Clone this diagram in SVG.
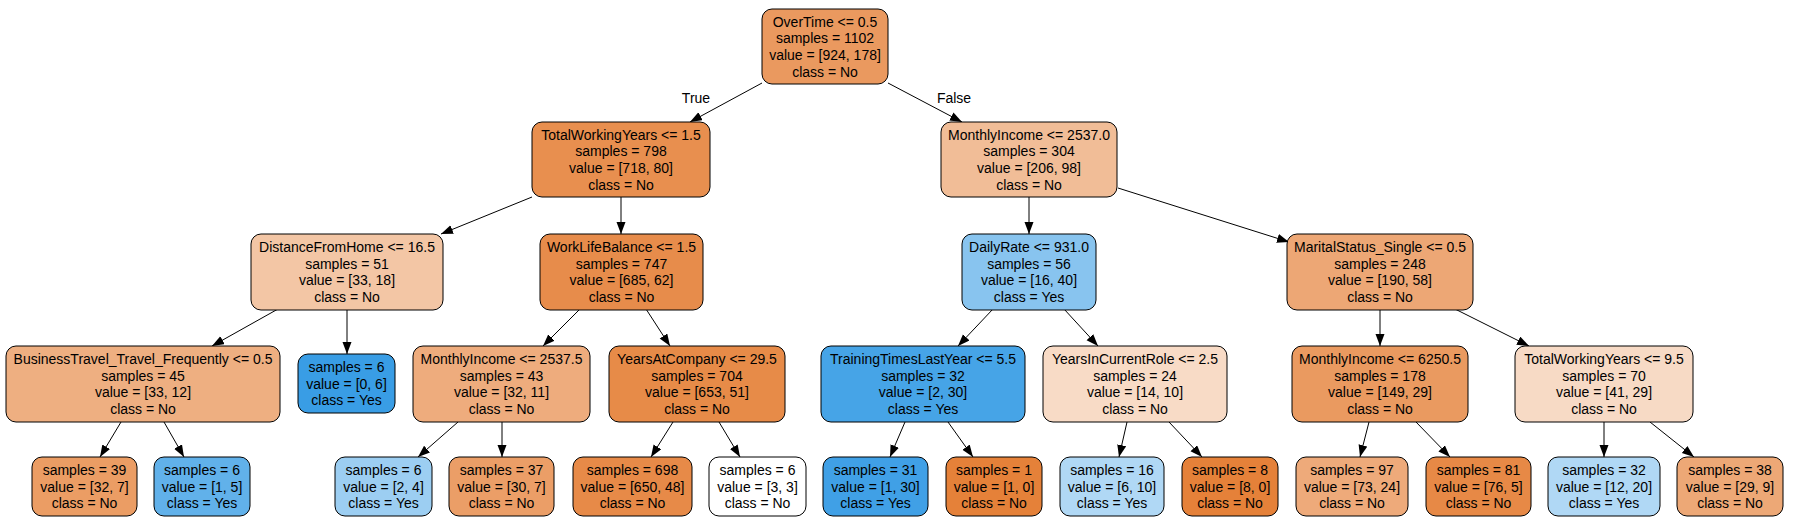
<svg xmlns="http://www.w3.org/2000/svg" width="1797" height="529" viewBox="0 0 1797 529">
<style>
rect.n{stroke:#000;stroke-width:1;}
text{font-family:"Liberation Sans",Arial,sans-serif;font-size:14px;fill:#000;text-anchor:middle;}
.e line{stroke:#000;stroke-width:1;marker-end:url(#ah);}
</style>
<defs>
<marker id="ah" markerUnits="userSpaceOnUse" markerWidth="12" markerHeight="10" refX="12" refY="4.5" orient="auto">
<path d="M0,0 L12,4.5 L0,9 z" fill="#000"/>
</marker>
</defs>
<rect width="1797" height="529" fill="#fff"/>
<g class="e" id="edges">
<line x1="762" y1="83" x2="690" y2="122"/>
<line x1="888" y1="83" x2="962" y2="122"/>
<line x1="532" y1="197" x2="441" y2="234"/>
<line x1="621" y1="197" x2="621" y2="234"/>
<line x1="1029" y1="197" x2="1029" y2="234"/>
<line x1="1118" y1="188" x2="1289" y2="242"/>
<line x1="278" y1="309" x2="212" y2="346"/>
<line x1="347" y1="310" x2="347" y2="354"/>
<line x1="580" y1="309" x2="543" y2="346"/>
<line x1="646" y1="309" x2="670" y2="346"/>
<line x1="993" y1="309" x2="958" y2="346"/>
<line x1="1064" y1="309" x2="1098" y2="346"/>
<line x1="1380" y1="310" x2="1380" y2="346"/>
<line x1="1455" y1="309" x2="1529" y2="346"/>
<line x1="121" y1="422" x2="100" y2="457"/>
<line x1="164" y1="422" x2="184" y2="457"/>
<line x1="458" y1="422" x2="418" y2="457"/>
<line x1="502" y1="422" x2="502" y2="457"/>
<line x1="673" y1="422" x2="651" y2="457"/>
<line x1="719" y1="422" x2="740" y2="457"/>
<line x1="905" y1="422" x2="890" y2="457"/>
<line x1="948" y1="422" x2="973" y2="457"/>
<line x1="1127" y1="422" x2="1119" y2="457"/>
<line x1="1169" y1="422" x2="1202" y2="457"/>
<line x1="1369" y1="422" x2="1360" y2="457"/>
<line x1="1416" y1="422" x2="1450" y2="457"/>
<line x1="1604" y1="422" x2="1604" y2="457"/>
<line x1="1650" y1="422" x2="1694" y2="457"/>
<text x="696" y="103">True</text>
<text x="954" y="103">False</text>
</g>
<g id="n0"><rect class="n" x="762" y="9" width="126" height="75" rx="10" fill="#ea995f"/>
<text x="825" y="26.5">OverTime &lt;= 0.5</text><text x="825" y="43.2">samples = 1102</text><text x="825" y="59.8">value = [924, 178]</text><text x="825" y="76.5">class = No</text></g>
<g id="n1"><rect class="n" x="532" y="122" width="178" height="75" rx="10" fill="#e88f4f"/>
<text x="621" y="139.5">TotalWorkingYears &lt;= 1.5</text><text x="621" y="156.2">samples = 798</text><text x="621" y="172.8">value = [718, 80]</text><text x="621" y="189.5">class = No</text></g>
<g id="n2"><rect class="n" x="941" y="122" width="176" height="75" rx="10" fill="#f1bd97"/>
<text x="1029" y="139.5">MonthlyIncome &lt;= 2537.0</text><text x="1029" y="156.2">samples = 304</text><text x="1029" y="172.8">value = [206, 98]</text><text x="1029" y="189.5">class = No</text></g>
<g id="n3"><rect class="n" x="251" y="234" width="192" height="76" rx="10" fill="#f3c6a5"/>
<text x="347" y="252">DistanceFromHome &lt;= 16.5</text><text x="347" y="268.7">samples = 51</text><text x="347" y="285.3">value = [33, 18]</text><text x="347" y="302">class = No</text></g>
<g id="n4"><rect class="n" x="540" y="234" width="163" height="76" rx="10" fill="#e78c4b"/>
<text x="621.5" y="252">WorkLifeBalance &lt;= 1.5</text><text x="621.5" y="268.7">samples = 747</text><text x="621.5" y="285.3">value = [685, 62]</text><text x="621.5" y="302">class = No</text></g>
<g id="n5"><rect class="n" x="962" y="234" width="134" height="76" rx="10" fill="#88c4ef"/>
<text x="1029" y="252">DailyRate &lt;= 931.0</text><text x="1029" y="268.7">samples = 56</text><text x="1029" y="285.3">value = [16, 40]</text><text x="1029" y="302">class = Yes</text></g>
<g id="n6"><rect class="n" x="1287" y="234" width="186" height="76" rx="10" fill="#eda775"/>
<text x="1380" y="252">MaritalStatus_Single &lt;= 0.5</text><text x="1380" y="268.7">samples = 248</text><text x="1380" y="285.3">value = [190, 58]</text><text x="1380" y="302">class = No</text></g>
<g id="n7"><rect class="n" x="6" y="346" width="274" height="76" rx="10" fill="#eeaf81"/>
<text x="143" y="364">BusinessTravel_Travel_Frequently &lt;= 0.5</text><text x="143" y="380.7">samples = 45</text><text x="143" y="397.3">value = [33, 12]</text><text x="143" y="414">class = No</text></g>
<g id="n8"><rect class="n" x="298" y="354" width="97" height="59" rx="10" fill="#399de5"/>
<text x="346.5" y="371.8">samples = 6</text><text x="346.5" y="388.5">value = [0, 6]</text><text x="346.5" y="405.2">class = Yes</text></g>
<g id="n9"><rect class="n" x="413" y="346" width="177" height="76" rx="10" fill="#eeac7d"/>
<text x="501.5" y="364">MonthlyIncome &lt;= 2537.5</text><text x="501.5" y="380.7">samples = 43</text><text x="501.5" y="397.3">value = [32, 11]</text><text x="501.5" y="414">class = No</text></g>
<g id="n10"><rect class="n" x="609" y="346" width="176" height="76" rx="10" fill="#e78b48"/>
<text x="697" y="364">YearsAtCompany &lt;= 29.5</text><text x="697" y="380.7">samples = 704</text><text x="697" y="397.3">value = [653, 51]</text><text x="697" y="414">class = No</text></g>
<g id="n11"><rect class="n" x="821" y="346" width="204" height="76" rx="10" fill="#46a4e7"/>
<text x="923" y="364">TrainingTimesLastYear &lt;= 5.5</text><text x="923" y="380.7">samples = 32</text><text x="923" y="397.3">value = [2, 30]</text><text x="923" y="414">class = Yes</text></g>
<g id="n12"><rect class="n" x="1043" y="346" width="184" height="76" rx="10" fill="#f8dbc6"/>
<text x="1135" y="364">YearsInCurrentRole &lt;= 2.5</text><text x="1135" y="380.7">samples = 24</text><text x="1135" y="397.3">value = [14, 10]</text><text x="1135" y="414">class = No</text></g>
<g id="n13"><rect class="n" x="1292" y="346" width="176" height="76" rx="10" fill="#ea9a60"/>
<text x="1380" y="364">MonthlyIncome &lt;= 6250.5</text><text x="1380" y="380.7">samples = 178</text><text x="1380" y="397.3">value = [149, 29]</text><text x="1380" y="414">class = No</text></g>
<g id="n14"><rect class="n" x="1515" y="346" width="178" height="76" rx="10" fill="#f7dac5"/>
<text x="1604" y="364">TotalWorkingYears &lt;= 9.5</text><text x="1604" y="380.7">samples = 70</text><text x="1604" y="397.3">value = [41, 29]</text><text x="1604" y="414">class = No</text></g>
<g id="n15"><rect class="n" x="32" y="457" width="105" height="59" rx="10" fill="#eb9d64"/>
<text x="84.5" y="474.8">samples = 39</text><text x="84.5" y="491.5">value = [32, 7]</text><text x="84.5" y="508.2">class = No</text></g>
<g id="n16"><rect class="n" x="154" y="457" width="96" height="59" rx="10" fill="#61b1ea"/>
<text x="202" y="474.8">samples = 6</text><text x="202" y="491.5">value = [1, 5]</text><text x="202" y="508.2">class = Yes</text></g>
<g id="n17"><rect class="n" x="335" y="457" width="97" height="59" rx="10" fill="#9ccef2"/>
<text x="383.5" y="474.8">samples = 6</text><text x="383.5" y="491.5">value = [2, 4]</text><text x="383.5" y="508.2">class = Yes</text></g>
<g id="n18"><rect class="n" x="449" y="457" width="105" height="59" rx="10" fill="#eb9e67"/>
<text x="501.5" y="474.8">samples = 37</text><text x="501.5" y="491.5">value = [30, 7]</text><text x="501.5" y="508.2">class = No</text></g>
<g id="n19"><rect class="n" x="573" y="457" width="119" height="59" rx="10" fill="#e78a48"/>
<text x="632.5" y="474.8">samples = 698</text><text x="632.5" y="491.5">value = [650, 48]</text><text x="632.5" y="508.2">class = No</text></g>
<g id="n20"><rect class="n" x="709" y="457" width="97" height="59" rx="10" fill="#ffffff"/>
<text x="757.5" y="474.8">samples = 6</text><text x="757.5" y="491.5">value = [3, 3]</text><text x="757.5" y="508.2">class = No</text></g>
<g id="n21"><rect class="n" x="823" y="457" width="105" height="59" rx="10" fill="#40a0e6"/>
<text x="875.5" y="474.8">samples = 31</text><text x="875.5" y="491.5">value = [1, 30]</text><text x="875.5" y="508.2">class = Yes</text></g>
<g id="n22"><rect class="n" x="946" y="457" width="96" height="59" rx="10" fill="#e58139"/>
<text x="994" y="474.8">samples = 1</text><text x="994" y="491.5">value = [1, 0]</text><text x="994" y="508.2">class = No</text></g>
<g id="n23"><rect class="n" x="1060" y="457" width="104" height="59" rx="10" fill="#b0d8f5"/>
<text x="1112" y="474.8">samples = 16</text><text x="1112" y="491.5">value = [6, 10]</text><text x="1112" y="508.2">class = Yes</text></g>
<g id="n24"><rect class="n" x="1182" y="457" width="96" height="59" rx="10" fill="#e58139"/>
<text x="1230" y="474.8">samples = 8</text><text x="1230" y="491.5">value = [8, 0]</text><text x="1230" y="508.2">class = No</text></g>
<g id="n25"><rect class="n" x="1296" y="457" width="112" height="59" rx="10" fill="#eeaa7a"/>
<text x="1352" y="474.8">samples = 97</text><text x="1352" y="491.5">value = [73, 24]</text><text x="1352" y="508.2">class = No</text></g>
<g id="n26"><rect class="n" x="1426" y="457" width="105" height="59" rx="10" fill="#e78946"/>
<text x="1478.5" y="474.8">samples = 81</text><text x="1478.5" y="491.5">value = [76, 5]</text><text x="1478.5" y="508.2">class = No</text></g>
<g id="n27"><rect class="n" x="1548" y="457" width="112" height="59" rx="10" fill="#b0d8f5"/>
<text x="1604" y="474.8">samples = 32</text><text x="1604" y="491.5">value = [12, 20]</text><text x="1604" y="508.2">class = Yes</text></g>
<g id="n28"><rect class="n" x="1677" y="457" width="106" height="59" rx="10" fill="#eda876"/>
<text x="1730" y="474.8">samples = 38</text><text x="1730" y="491.5">value = [29, 9]</text><text x="1730" y="508.2">class = No</text></g>
</svg>
